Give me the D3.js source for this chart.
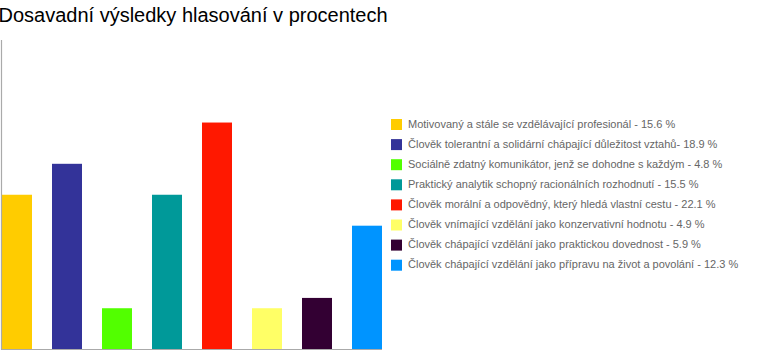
<!DOCTYPE html>
<html>
<head>
<meta charset="utf-8">
<script src="https://cdn.jsdelivr.net/npm/d3@7/dist/d3.min.js"></script>
<style>
  html, body { margin: 0; padding: 0; background: #fff; }
  svg { display: block; }
</style>
</head>
<body>
<svg id="chart" width="760" height="350"></svg>
<script>
const title = "Dosavadní výsledky hlasování v procentech";
const categories = [
  "Motivovaný a stále se vzdělávající profesionál - 15.6 %",
  "Člověk tolerantní a solidární chápající důležitost vztahů- 18.9 %",
  "Sociálně zdatný komunikátor, jenž se dohodne s každým - 4.8 %",
  "Praktický analytik schopný racionálních rozhodnutí - 15.5 %",
  "Člověk morální a odpovědný, který hledá vlastní cestu - 22.1 %",
  "Člověk vnímající vzdělání jako konzervativní hodnotu - 4.9 %",
  "Člověk chápající vzdělání jako praktickou dovednost - 5.9 %",
  "Člověk chápající vzdělání jako přípravu na život a povolání - 12.3 %"
];
const values = [15, 18, 4, 15, 22, 4, 5, 12];
const colors = ["#FFCC00", "#333399", "#52FF00", "#009999", "#FF1800", "#FFFF66", "#330033", "#0094FF"];
const yMax = 30;

const svg = d3.select("#chart");

svg.append("text")
  .attr("x", -1.5).attr("y", 22)
  .attr("font-family", "Liberation Sans, Arial, sans-serif")
  .attr("font-size", 20)
  .attr("fill", "#000")
  .text(title);

const x = d3.scaleBand().domain(d3.range(categories.length)).range([2, 382]).paddingInner(0.4).paddingOuter(0);
const y = d3.scaleLinear().domain([0, yMax]).range([349.5, 40]);

svg.selectAll("rect.bar").data(values).join("rect")
  .attr("class", "bar")
  .attr("x", (d, i) => x(i))
  .attr("width", x.bandwidth())
  .attr("y", d => y(d))
  .attr("height", d => y(0) - y(d))
  .attr("fill", (d, i) => colors[i]);

// axes lines
svg.append("line").attr("x1", 1.5).attr("x2", 1.5).attr("y1", y(yMax)).attr("y2", 350)
  .attr("stroke", "#aaa").attr("stroke-width", 1.2);
svg.append("line").attr("x1", 1).attr("x2", 382).attr("y1", 349.5).attr("y2", 349.5)
  .attr("stroke", "#aaa").attr("stroke-width", 1.2);

// legend
const lg = svg.append("g");
const rows = lg.selectAll("g").data(categories).join("g")
  .attr("transform", (d, i) => `translate(391, ${119 + i * 20.1})`);
rows.append("rect").attr("width", 11).attr("height", 11).attr("fill", (d, i) => colors[i]);
rows.append("text").attr("x", 17).attr("y", 8.5)
  .attr("font-family", "Liberation Sans, Arial, sans-serif")
  .attr("font-size", 11)
  .attr("fill", "#666")
  .text(d => d);
</script>
</body>
</html>
